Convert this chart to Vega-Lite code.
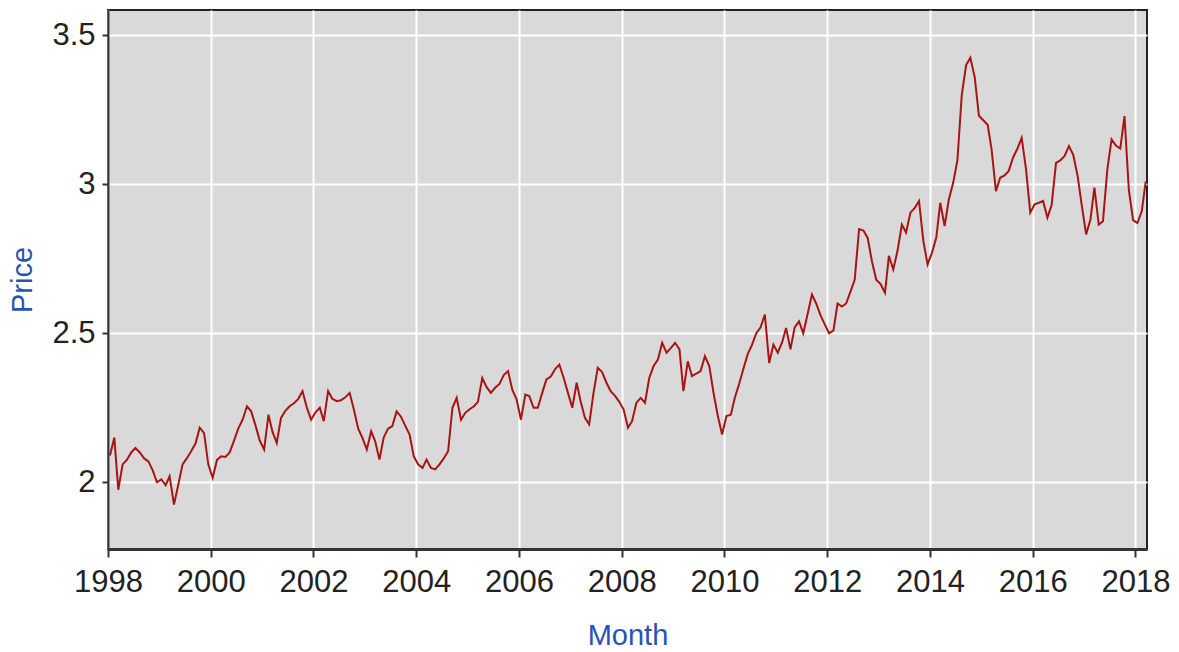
{
  "$schema": "https://vega.github.io/schema/vega-lite/v6.json",
  "autosize": "none",
  "width": 1039,
  "height": 539,
  "padding": {"left": 108, "top": 10, "right": 32, "bottom": 103},
  "background": "white",
  "view": {"fill": "#d9d9d9", "stroke": "#222222", "strokeWidth": 2},
  "data": {"values": [
    {"date":"1998-01-15","price":2.09},{"date":"1998-02-15","price":2.15},{"date":"1998-03-15","price":1.975},{"date":"1998-04-15","price":2.06},{"date":"1998-05-15","price":2.075},{"date":"1998-06-15","price":2.10},{"date":"1998-07-15","price":2.115},{"date":"1998-08-15","price":2.10},{"date":"1998-09-15","price":2.08},{"date":"1998-10-15","price":2.07},{"date":"1998-11-15","price":2.04},{"date":"1998-12-15","price":2.00},
    {"date":"1999-01-15","price":2.01},{"date":"1999-02-15","price":1.99},{"date":"1999-03-15","price":2.02},{"date":"1999-04-15","price":1.925},{"date":"1999-05-15","price":1.99},{"date":"1999-06-15","price":2.06},{"date":"1999-07-15","price":2.08},{"date":"1999-08-15","price":2.104},{"date":"1999-09-15","price":2.13},{"date":"1999-10-15","price":2.183},{"date":"1999-11-15","price":2.165},{"date":"1999-12-15","price":2.06},
    {"date":"2000-01-15","price":2.015},{"date":"2000-02-15","price":2.075},{"date":"2000-03-15","price":2.087},{"date":"2000-04-15","price":2.085},{"date":"2000-05-15","price":2.10},{"date":"2000-06-15","price":2.14},{"date":"2000-07-15","price":2.18},{"date":"2000-08-15","price":2.21},{"date":"2000-09-15","price":2.255},{"date":"2000-10-15","price":2.238},{"date":"2000-11-15","price":2.19},{"date":"2000-12-15","price":2.14},
    {"date":"2001-01-15","price":2.11},{"date":"2001-02-15","price":2.227},{"date":"2001-03-15","price":2.17},{"date":"2001-04-15","price":2.132},{"date":"2001-05-15","price":2.216},{"date":"2001-06-15","price":2.24},{"date":"2001-07-15","price":2.255},{"date":"2001-08-15","price":2.265},{"date":"2001-09-15","price":2.28},{"date":"2001-10-15","price":2.306},{"date":"2001-11-15","price":2.25},{"date":"2001-12-15","price":2.21},
    {"date":"2002-01-15","price":2.235},{"date":"2002-02-15","price":2.25},{"date":"2002-03-15","price":2.205},{"date":"2002-04-15","price":2.306},{"date":"2002-05-15","price":2.28},{"date":"2002-06-15","price":2.272},{"date":"2002-07-15","price":2.275},{"date":"2002-08-15","price":2.285},{"date":"2002-09-15","price":2.30},{"date":"2002-10-15","price":2.244},{"date":"2002-11-15","price":2.18},{"date":"2002-12-15","price":2.149},
    {"date":"2003-01-15","price":2.11},{"date":"2003-02-15","price":2.171},{"date":"2003-03-15","price":2.138},{"date":"2003-04-15","price":2.076},{"date":"2003-05-15","price":2.15},{"date":"2003-06-15","price":2.18},{"date":"2003-07-15","price":2.188},{"date":"2003-08-15","price":2.238},{"date":"2003-09-15","price":2.22},{"date":"2003-10-15","price":2.19},{"date":"2003-11-15","price":2.16},{"date":"2003-12-15","price":2.087},
    {"date":"2004-01-15","price":2.06},{"date":"2004-02-15","price":2.048},{"date":"2004-03-15","price":2.076},{"date":"2004-04-15","price":2.048},{"date":"2004-05-15","price":2.043},{"date":"2004-06-15","price":2.06},{"date":"2004-07-15","price":2.08},{"date":"2004-08-15","price":2.104},{"date":"2004-09-15","price":2.25},{"date":"2004-10-15","price":2.283},{"date":"2004-11-15","price":2.21},{"date":"2004-12-15","price":2.233},
    {"date":"2005-01-15","price":2.245},{"date":"2005-02-15","price":2.255},{"date":"2005-03-15","price":2.27},{"date":"2005-04-15","price":2.35},{"date":"2005-05-15","price":2.32},{"date":"2005-06-15","price":2.30},{"date":"2005-07-15","price":2.317},{"date":"2005-08-15","price":2.33},{"date":"2005-09-15","price":2.36},{"date":"2005-10-15","price":2.373},{"date":"2005-11-15","price":2.31},{"date":"2005-12-15","price":2.278},
    {"date":"2006-01-15","price":2.21},{"date":"2006-02-15","price":2.294},{"date":"2006-03-15","price":2.289},{"date":"2006-04-15","price":2.25},{"date":"2006-05-15","price":2.25},{"date":"2006-06-15","price":2.30},{"date":"2006-07-15","price":2.345},{"date":"2006-08-15","price":2.355},{"date":"2006-09-15","price":2.38},{"date":"2006-10-15","price":2.395},{"date":"2006-11-15","price":2.35},{"date":"2006-12-15","price":2.30},
    {"date":"2007-01-15","price":2.25},{"date":"2007-02-15","price":2.334},{"date":"2007-03-15","price":2.272},{"date":"2007-04-15","price":2.216},{"date":"2007-05-15","price":2.194},{"date":"2007-06-15","price":2.30},{"date":"2007-07-15","price":2.384},{"date":"2007-08-15","price":2.37},{"date":"2007-09-15","price":2.334},{"date":"2007-10-15","price":2.306},{"date":"2007-11-15","price":2.29},{"date":"2007-12-15","price":2.27},
    {"date":"2008-01-15","price":2.244},{"date":"2008-02-15","price":2.183},{"date":"2008-03-15","price":2.205},{"date":"2008-04-15","price":2.267},{"date":"2008-05-15","price":2.283},{"date":"2008-06-15","price":2.267},{"date":"2008-07-15","price":2.35},{"date":"2008-08-15","price":2.39},{"date":"2008-09-15","price":2.412},{"date":"2008-10-15","price":2.468},{"date":"2008-11-15","price":2.435},{"date":"2008-12-15","price":2.45},
    {"date":"2009-01-15","price":2.468},{"date":"2009-02-15","price":2.446},{"date":"2009-03-15","price":2.306},{"date":"2009-04-15","price":2.406},{"date":"2009-05-15","price":2.356},{"date":"2009-06-15","price":2.365},{"date":"2009-07-15","price":2.373},{"date":"2009-08-15","price":2.423},{"date":"2009-09-15","price":2.39},{"date":"2009-10-15","price":2.30},{"date":"2009-11-15","price":2.222},{"date":"2009-12-15","price":2.16},
    {"date":"2010-01-15","price":2.222},{"date":"2010-02-15","price":2.227},{"date":"2010-03-15","price":2.283},{"date":"2010-04-15","price":2.33},{"date":"2010-05-15","price":2.38},{"date":"2010-06-15","price":2.43},{"date":"2010-07-15","price":2.46},{"date":"2010-08-15","price":2.50},{"date":"2010-09-15","price":2.52},{"date":"2010-10-15","price":2.563},{"date":"2010-11-15","price":2.40},{"date":"2010-12-15","price":2.462},
    {"date":"2011-01-15","price":2.435},{"date":"2011-02-15","price":2.47},{"date":"2011-03-15","price":2.518},{"date":"2011-04-15","price":2.446},{"date":"2011-05-15","price":2.52},{"date":"2011-06-15","price":2.54},{"date":"2011-07-15","price":2.50},{"date":"2011-08-15","price":2.565},{"date":"2011-09-15","price":2.63},{"date":"2011-10-15","price":2.60},{"date":"2011-11-15","price":2.56},{"date":"2011-12-15","price":2.53},
    {"date":"2012-01-15","price":2.50},{"date":"2012-02-15","price":2.51},{"date":"2012-03-15","price":2.60},{"date":"2012-04-15","price":2.59},{"date":"2012-05-15","price":2.60},{"date":"2012-06-15","price":2.64},{"date":"2012-07-15","price":2.68},{"date":"2012-08-15","price":2.85},{"date":"2012-09-15","price":2.845},{"date":"2012-10-15","price":2.82},{"date":"2012-11-15","price":2.74},{"date":"2012-12-15","price":2.68},
    {"date":"2013-01-15","price":2.665},{"date":"2013-02-15","price":2.636},{"date":"2013-03-15","price":2.76},{"date":"2013-04-15","price":2.714},{"date":"2013-05-15","price":2.776},{"date":"2013-06-15","price":2.865},{"date":"2013-07-15","price":2.838},{"date":"2013-08-15","price":2.905},{"date":"2013-09-15","price":2.921},{"date":"2013-10-15","price":2.944},{"date":"2013-11-15","price":2.809},{"date":"2013-12-15","price":2.731},
    {"date":"2014-01-15","price":2.77},{"date":"2014-02-15","price":2.821},{"date":"2014-03-15","price":2.938},{"date":"2014-04-15","price":2.86},{"date":"2014-05-15","price":2.949},{"date":"2014-06-15","price":3.005},{"date":"2014-07-15","price":3.08},{"date":"2014-08-15","price":3.30},{"date":"2014-09-15","price":3.40},{"date":"2014-10-15","price":3.425},{"date":"2014-11-15","price":3.36},{"date":"2014-12-15","price":3.23},
    {"date":"2015-01-15","price":3.215},{"date":"2015-02-15","price":3.20},{"date":"2015-03-15","price":3.117},{"date":"2015-04-15","price":2.977},{"date":"2015-05-15","price":3.022},{"date":"2015-06-15","price":3.03},{"date":"2015-07-15","price":3.045},{"date":"2015-08-15","price":3.09},{"date":"2015-09-15","price":3.12},{"date":"2015-10-15","price":3.156},{"date":"2015-11-15","price":3.05},{"date":"2015-12-15","price":2.905},
    {"date":"2016-01-15","price":2.933},{"date":"2016-02-15","price":2.938},{"date":"2016-03-15","price":2.944},{"date":"2016-04-15","price":2.888},{"date":"2016-05-15","price":2.93},{"date":"2016-06-15","price":3.072},{"date":"2016-07-15","price":3.08},{"date":"2016-08-15","price":3.095},{"date":"2016-09-15","price":3.128},{"date":"2016-10-15","price":3.10},{"date":"2016-11-15","price":3.03},{"date":"2016-12-15","price":2.93},
    {"date":"2017-01-15","price":2.832},{"date":"2017-02-15","price":2.882},{"date":"2017-03-15","price":2.989},{"date":"2017-04-15","price":2.865},{"date":"2017-05-15","price":2.876},{"date":"2017-06-15","price":3.05},{"date":"2017-07-15","price":3.151},{"date":"2017-08-15","price":3.13},{"date":"2017-09-15","price":3.12},{"date":"2017-10-15","price":3.229},{"date":"2017-11-15","price":2.98},{"date":"2017-12-15","price":2.88},
    {"date":"2018-01-15","price":2.87},{"date":"2018-02-15","price":2.91},{"date":"2018-03-15","price":3.01}
  ]},
  "mark": {"type": "line", "color": "#a81414", "strokeWidth": 2, "clip": true},
  "encoding": {
    "x": {
      "field": "date", "type": "temporal", "title": "Month",
      "scale": {"type": "utc", "domain": [{"year": 1998, "month": 1, "date": 1, "utc": true}, {"year": 2018, "month": 3, "date": 24, "utc": true}]},
      "axis": {
        "values": [{"year":1998,"month":1,"date":1,"utc":true},{"year":2000,"month":1,"date":1,"utc":true},{"year":2002,"month":1,"date":1,"utc":true},{"year":2004,"month":1,"date":1,"utc":true},{"year":2006,"month":1,"date":1,"utc":true},{"year":2008,"month":1,"date":1,"utc":true},{"year":2010,"month":1,"date":1,"utc":true},{"year":2012,"month":1,"date":1,"utc":true},{"year":2014,"month":1,"date":1,"utc":true},{"year":2016,"month":1,"date":1,"utc":true},{"year":2018,"month":1,"date":1,"utc":true}],
        "format": "%Y", "formatType": "utc",
        "grid": true, "gridColor": "#ffffff", "gridWidth": 2, "gridOpacity": 1,
        "domainColor": "#333333", "domainWidth": 3,
        "tickColor": "#333333", "tickWidth": 2, "tickSize": 8,
        "labelFont": "Liberation Sans", "labelFontSize": 31, "labelColor": "#222222", "labelPadding": 10,
        "labelOverlap": false, "labelFlush": false,
        "titleFont": "Liberation Sans", "titleFontSize": 29, "titleFontWeight": "normal", "titleColor": "#2a52b4", "titlePadding": 24
      }
    },
    "y": {
      "field": "price", "type": "quantitative", "title": "Price",
      "scale": {"domain": [1.776, 3.585], "zero": false, "nice": false},
      "axis": {
        "values": [2, 2.5, 3, 3.5],
        "format": "~g",
        "grid": true, "gridColor": "#ffffff", "gridWidth": 2, "gridOpacity": 1,
        "domainColor": "#333333", "domainWidth": 2,
        "tickColor": "#333333", "tickWidth": 2, "tickSize": 6,
        "labelFont": "Liberation Sans", "labelFontSize": 31, "labelColor": "#222222", "labelPadding": 7,
        "titleFont": "Liberation Sans", "titleFontSize": 29, "titleFontWeight": "normal", "titleColor": "#2a52b4", "titlePadding": 14
      }
    }
  }
}
